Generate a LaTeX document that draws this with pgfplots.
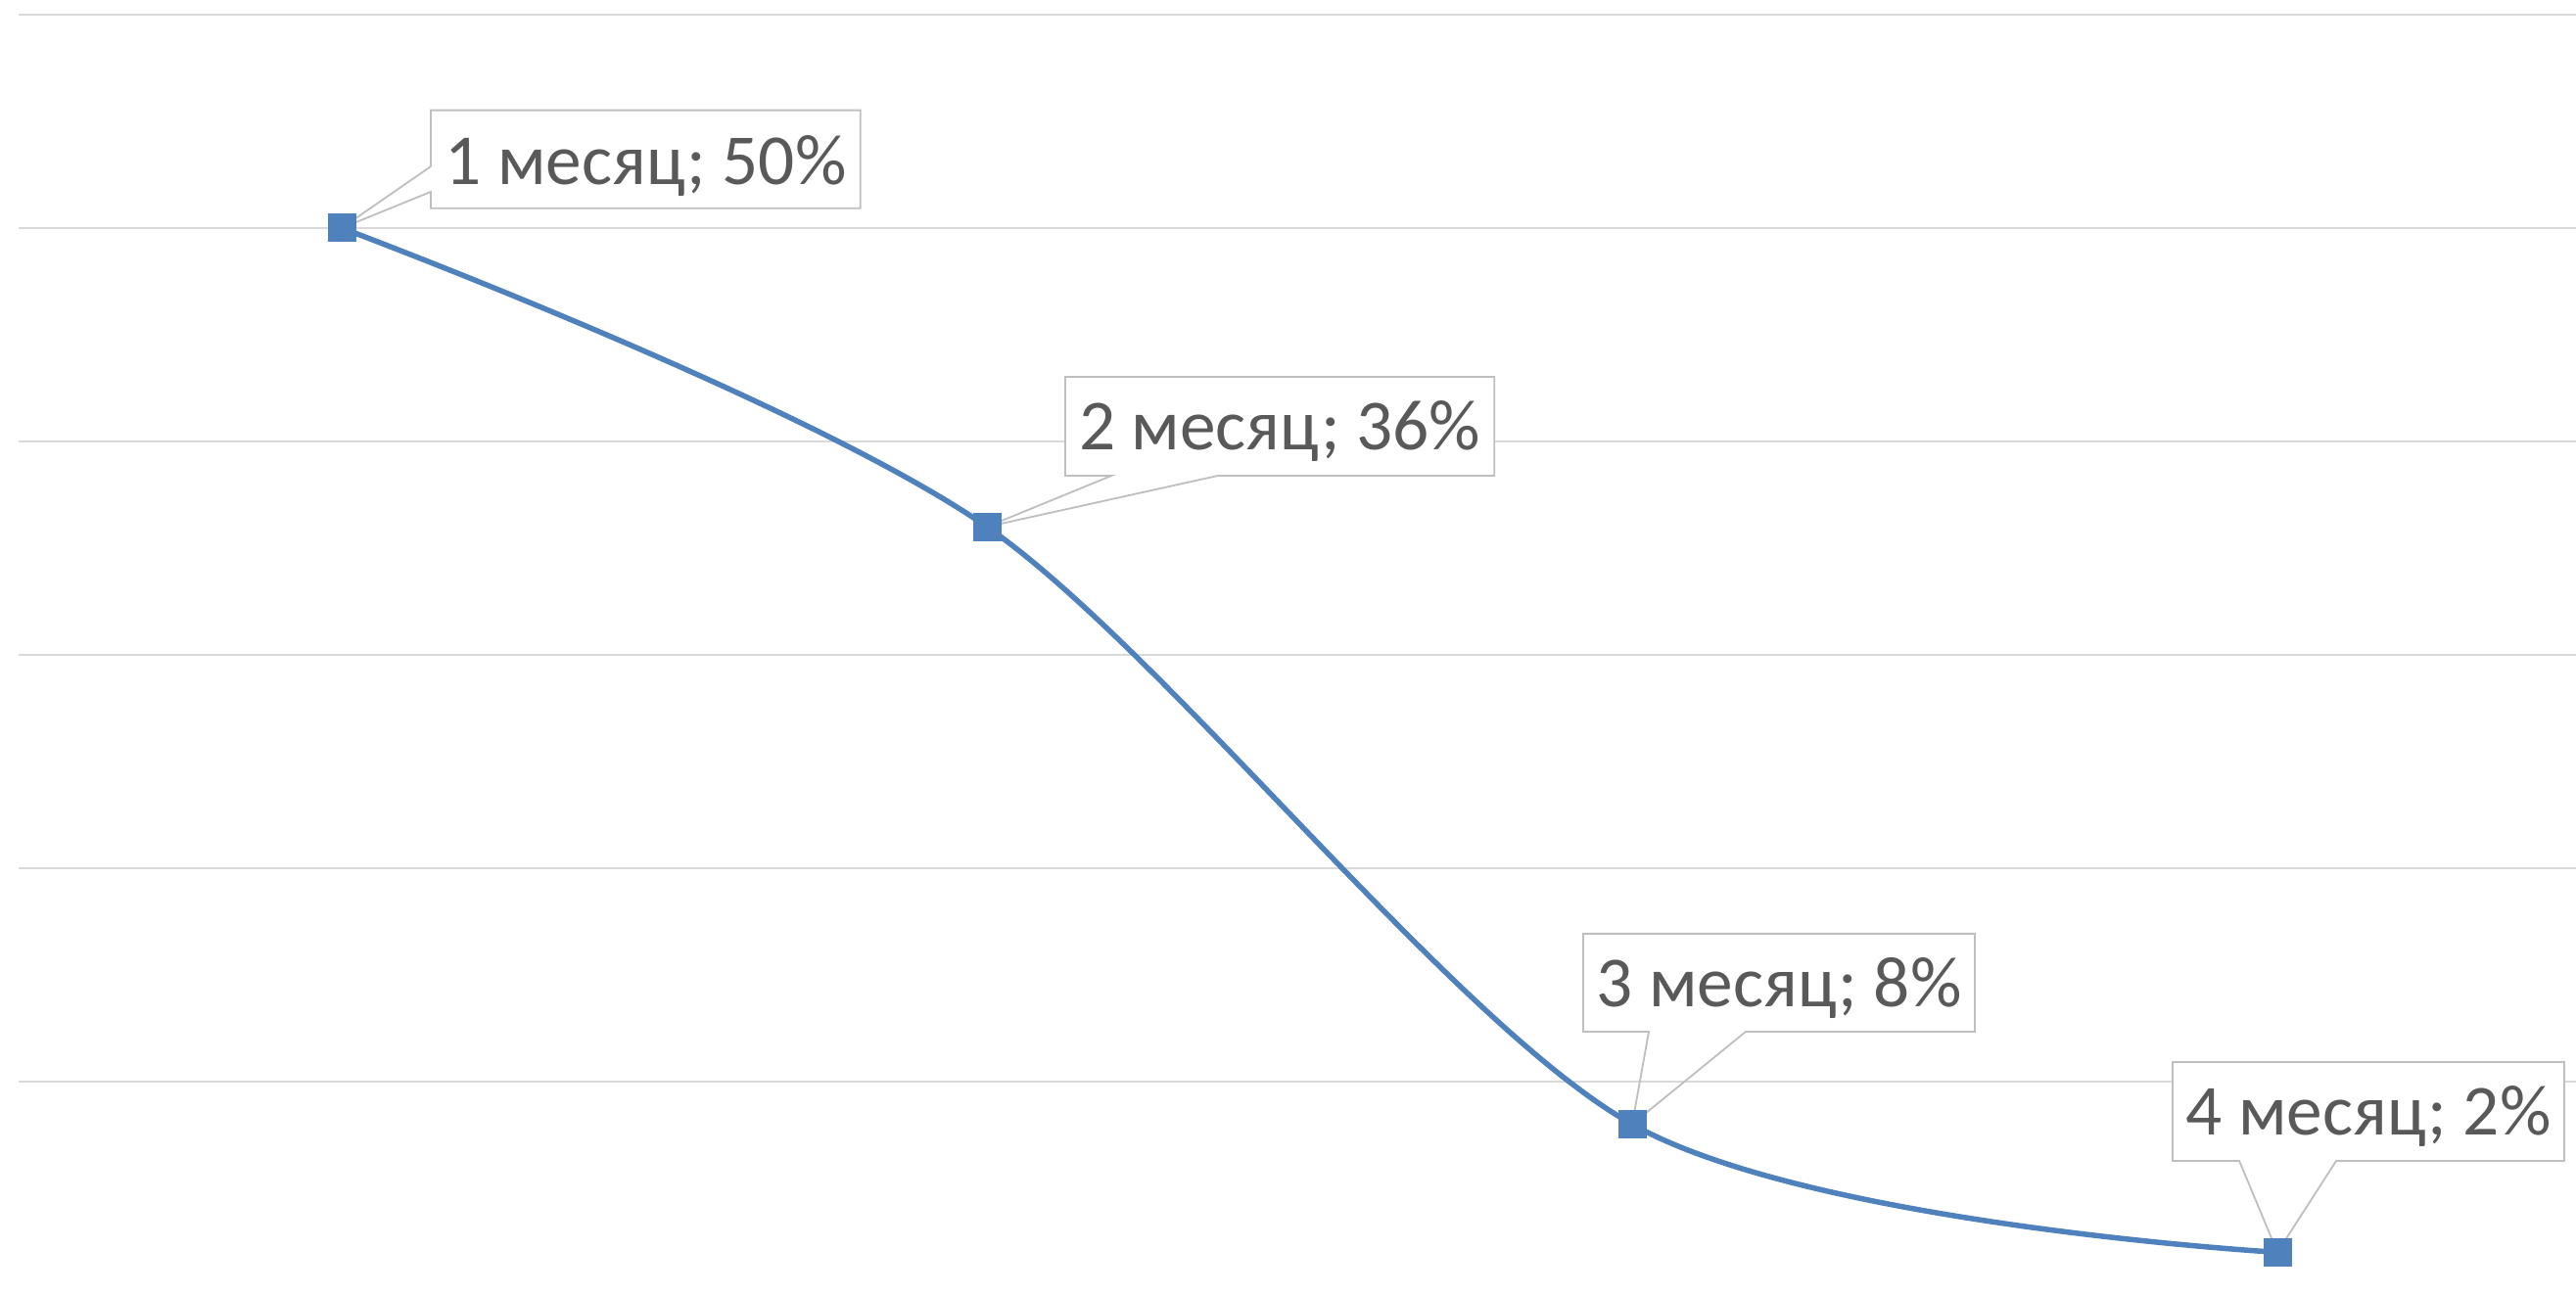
\documentclass[border=0pt]{standalone}
\usepackage{pgfplots}
\pgfplotsset{compat=1.18}
\usepackage{fontspec}
\setmainfont{Carlito}

\definecolor{serie}{HTML}{4F81BD}
\definecolor{gridc}{HTML}{D9D9D9}
\definecolor{calloutc}{HTML}{BFBFBF}
\definecolor{labeltext}{HTML}{595959}

\tikzset{
  callout box/.style={draw=calloutc, line width=0.55pt, line join=miter},
  callout text/.style={anchor=base, text=labeltext, inner sep=0pt,
    font=\fontsize{22}{26}\selectfont},
}

\begin{document}
\begin{tikzpicture}
\begin{axis}[
  scale only axis,
  width=783.45pt, height=392.4pt,
  xmin=-0.5, xmax=3.4628,
  ymin=0, ymax=60,
  axis line style={draw=none},
  xtick=\empty,
  ytick={10,20,30,40,50,60},
  yticklabels={},
  major tick length=0pt,
  ymajorgrids,
  grid style={gridc, line width=0.6pt},
  clip=false,
]
\coordinate (bl) at (rel axis cs:0,0);
\coordinate (tr) at (rel axis cs:1,1);

% retention by month
\addplot[serie, line width=1.65pt, smooth, tension=0.5,
  mark=square*, mark size=4.2pt,
  mark options={solid, fill=serie, draw=serie, line width=0pt}]
  coordinates {(0,50) (1,36) (2,8) (3,2)};

% data label callouts
\fill[white] (axis cs:0.1382,55.52) rectangle (axis cs:0.8038,50.93);
\draw[callout box] (axis cs:0.1382,55.52) -- (axis cs:0.8038,55.52)
  -- (axis cs:0.8038,50.93) -- (axis cs:0.1382,50.93)
  -- (axis cs:0.1382,51.70) -- (axis cs:0,50)
  -- (axis cs:0.1382,52.89) -- cycle;
\node[callout text] at (axis cs:0.471,52.06) {1 месяц; 50\%};

\fill[white] (axis cs:1.1214,43.03) rectangle (axis cs:1.7863,38.39);
\draw[callout box] (axis cs:1.1214,43.03) -- (axis cs:1.7863,43.03)
  -- (axis cs:1.7863,38.39) -- (axis cs:1.3574,38.39)
  -- (axis cs:1,36) -- (axis cs:1.1927,38.39)
  -- (axis cs:1.1214,38.39) -- cycle;
\node[callout text] at (axis cs:1.4539,39.59) {2 месяц; 36\%};

\fill[white] (axis cs:1.924,16.93) rectangle (axis cs:2.531,12.34);
\draw[callout box] (axis cs:1.924,16.93) -- (axis cs:2.531,16.93)
  -- (axis cs:2.531,12.34) -- (axis cs:2.176,12.34)
  -- (axis cs:2,8) -- (axis cs:2.0258,12.34)
  -- (axis cs:1.924,12.34) -- cycle;
\node[callout text] at (axis cs:2.2275,13.49) {3 месяц; 8\%};

\fill[white] (axis cs:2.8376,10.92) rectangle (axis cs:3.4446,6.28);
\draw[callout box] (axis cs:2.8376,10.92) -- (axis cs:3.4446,10.92)
  -- (axis cs:3.4446,6.28) -- (axis cs:3.091,6.28)
  -- (axis cs:3,2) -- (axis cs:2.941,6.28)
  -- (axis cs:2.8376,6.28) -- cycle;
\node[callout text] at (axis cs:3.1411,7.48) {4 месяц; 2\%};
\end{axis}
\pgfresetboundingbox
\path ([xshift=-5.85pt]bl) rectangle ([yshift=4.5pt]tr);
\end{tikzpicture}
\end{document}
